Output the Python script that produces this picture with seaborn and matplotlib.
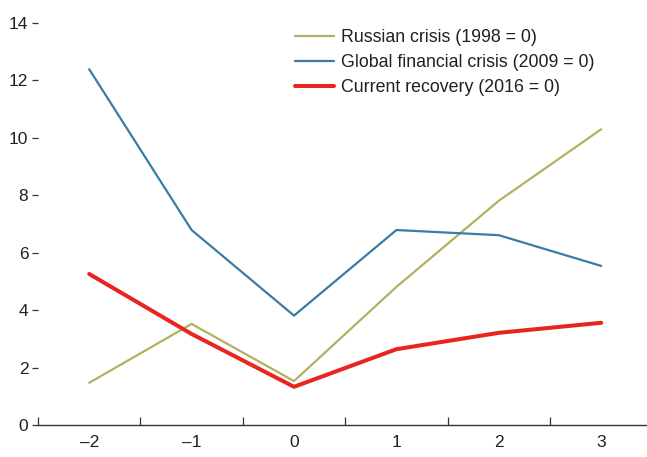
import numpy as np
import pandas as pd
import matplotlib
matplotlib.use("Agg")
import matplotlib.pyplot as plt
import seaborn as sns

# years relative to the event (0 = crisis / recovery year)
years = [-2, -1, 0, 1, 2, 3]
russian = [1.47, 3.52, 1.53, 4.81, 7.81, 10.30]
global_fin = [12.39, 6.79, 3.81, 6.79, 6.61, 5.54]
current = [5.26, 3.17, 1.33, 2.64, 3.21, 3.56]

labels = ["Russian crisis (1998 = 0)",
          "Global financial crisis (2009 = 0)",
          "Current recovery (2016 = 0)"]
colors = ["#b5b05f", "#3a7ca6", "#e8251f"]
widths = [1.6, 1.6, 2.9]

sns.set_style("white")
plt.rcParams['font.family'] = ['Liberation Sans', 'DejaVu Sans']
plt.rcParams['text.color'] = '#231f20'
plt.rcParams['xtick.color'] = '#231f20'
plt.rcParams['ytick.color'] = '#231f20'

fig = plt.figure(figsize=(6.47, 4.57), dpi=100)
ax = fig.add_axes([38 / 647, 1 - 425 / 457, 1 - 38 / 647, (425 - 23) / 457])

for vals, lab, c, w in zip([russian, global_fin, current], labels, colors, widths):
    d = pd.DataFrame({"year": years, "value": vals})
    sns.lineplot(data=d, x="year", y="value", ax=ax, color=c, linewidth=w, label=lab)

ax.set_xlim(-2.5, 3.447)
ax.set_ylim(0, 14)
ax.set_xlabel("")
ax.set_ylabel("")

for s in ["top", "right", "left"]:
    ax.spines[s].set_visible(False)
ax.spines["bottom"].set_color("#333333")
ax.spines["bottom"].set_linewidth(1.0)

ax.set_yticks(np.arange(0, 15, 2))
ax.tick_params(axis="y", direction="out", length=4, width=0.9, color="#333333",
               pad=3, labelsize=12.5, left=True)
ax.set_xticks(np.arange(-2.5, 3.0, 1.0))
ax.set_xticklabels([])
ax.set_xticks(years, minor=True)
ax.set_xticklabels([f"{v}".replace("-", "\u2013") for v in years], minor=True)
ax.tick_params(axis="x", which="major", direction="in", length=6, width=0.9,
               color="#333333", bottom=True)
ax.tick_params(axis="x", which="minor", length=0, pad=7, labelsize=12.5)

ax.legend(loc="upper left", bbox_to_anchor=(0.422, 0.985), frameon=False,
          fontsize=12.8, handlelength=2.2, handletextpad=0.4, labelspacing=0.46,
          borderaxespad=0, borderpad=0)

fig.savefig("out.png", dpi=100)
